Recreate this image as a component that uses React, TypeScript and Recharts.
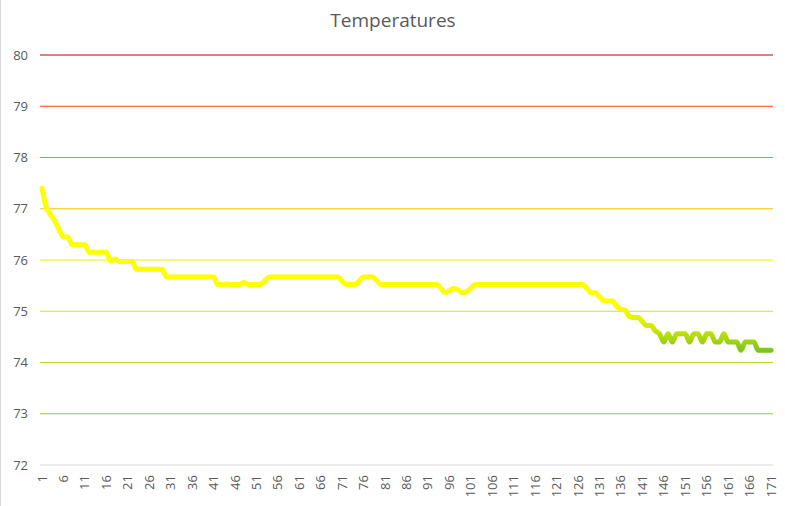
import { LineChart, Line, XAxis, YAxis, ReferenceLine } from 'recharts'

// one reading per sample
const temps = [
  77.4, 77.03, 76.88, 76.76, 76.59, 76.45, 76.45, 76.3, 76.3, 76.3,
  76.3, 76.15, 76.15, 76.15, 76.15, 76.15, 75.98, 76.02, 75.97, 75.97,
  75.97, 75.97, 75.82, 75.82, 75.82, 75.82, 75.82, 75.82, 75.82, 75.67,
  75.67, 75.67, 75.67, 75.67, 75.67, 75.67, 75.67, 75.67, 75.67, 75.67,
  75.67, 75.52, 75.52, 75.53, 75.52, 75.52, 75.52, 75.56, 75.52, 75.52,
  75.52, 75.52, 75.6, 75.67, 75.67, 75.67, 75.67, 75.67, 75.67, 75.67,
  75.67, 75.67, 75.67, 75.67, 75.67, 75.67, 75.67, 75.67, 75.67, 75.67,
  75.58, 75.52, 75.52, 75.52, 75.6, 75.67, 75.67, 75.67, 75.6, 75.52,
  75.52, 75.52, 75.52, 75.52, 75.52, 75.52, 75.52, 75.52, 75.52, 75.52,
  75.52, 75.52, 75.52, 75.45, 75.36, 75.4, 75.45, 75.42, 75.36, 75.38,
  75.45, 75.52, 75.52, 75.52, 75.52, 75.52, 75.52, 75.52, 75.52, 75.52,
  75.52, 75.52, 75.52, 75.52, 75.52, 75.52, 75.52, 75.52, 75.52, 75.52,
  75.52, 75.52, 75.52, 75.52, 75.52, 75.52, 75.52, 75.45, 75.36, 75.36,
  75.28, 75.2, 75.2, 75.2, 75.1, 75.04, 75.02, 74.9, 74.88, 74.88,
  74.8, 74.72, 74.72, 74.62, 74.56, 74.4, 74.56, 74.4, 74.56, 74.56,
  74.56, 74.4, 74.56, 74.56, 74.4, 74.56, 74.56, 74.4, 74.4, 74.56,
  74.4, 74.4, 74.4, 74.24, 74.4, 74.4, 74.4, 74.24, 74.24, 74.24,
  74.24,
]

const yTicks = [72, 73, 74, 75, 76, 77, 78, 79, 80]
// colour of each horizontal level line, bottom to top
const levelColors = ['#d9d9d9', '#8ccf3a', '#a6d92b', '#c8e534', '#f2f200', '#ffc000', '#ff8c00', '#ff4a00', '#c00000']

const data = temps.map((t, i) => ({ n: i + 1, t }))

const font = '"Open Sans", sans-serif'

function XTick({ x, y, payload }: any) {
  return (
    <text
      x={x}
      y={y}
      transform={`rotate(-90, ${x}, ${y})`}
      textAnchor="end"
      dy="0.35em"
      fontSize={13}
      fontFamily={font}
      fill="#595959"
    >
      {payload.value}
    </text>
  )
}

export default function App() {
  return (
    <div style={{ position: 'relative', width: 785, height: 506, background: '#fff', borderLeft: '1px solid #d9d9d9', boxSizing: 'border-box' }}>
      <style>{'body{margin:0}'}</style>
      <div
        style={{
          position: 'absolute',
          top: 7,
          width: '100%',
          textAlign: 'center',
          fontFamily: font,
          fontSize: 19,
          color: '#595959',
        }}
      >
        Temperatures
      </div>
      <LineChart width={784} height={506} data={data} margin={{ top: 55, right: 12, bottom: 0, left: 0 }}>
        <defs>
          <linearGradient id="tempGrad" x1="0" y1="0" x2="0" y2="1">
            <stop offset="0%" stopColor="#ffff00" />
            <stop offset="72%" stopColor="#ffff00" />
            <stop offset="86%" stopColor="#d4ea00" />
            <stop offset="100%" stopColor="#7cc520" />
          </linearGradient>
        </defs>
        <XAxis
          dataKey="n"
          interval={4}
          height={41}
          axisLine={false}
          tickLine={false}
          tickSize={0}
          tickMargin={10}
          padding={{ left: 2, right: 2 }}
          tick={<XTick />}
        />
        <YAxis
          domain={[72, 80]}
          ticks={yTicks}
          width={39}
          axisLine={false}
          tickLine={false}
          tickSize={0}
          tickMargin={12}
          tick={{ fontSize: 13, fontFamily: font, fill: '#595959' }}
        />
        {yTicks.map((v, i) => (
          <ReferenceLine key={v} y={v} stroke={levelColors[i]} strokeWidth={1} />
        ))}
        <Line
          type="monotone"
          dataKey="t"
          stroke="url(#tempGrad)"
          strokeWidth={5}
          strokeLinecap="round"
          strokeLinejoin="round"
          dot={false}
          isAnimationActive={false}
        />
      </LineChart>
    </div>
  )
}
